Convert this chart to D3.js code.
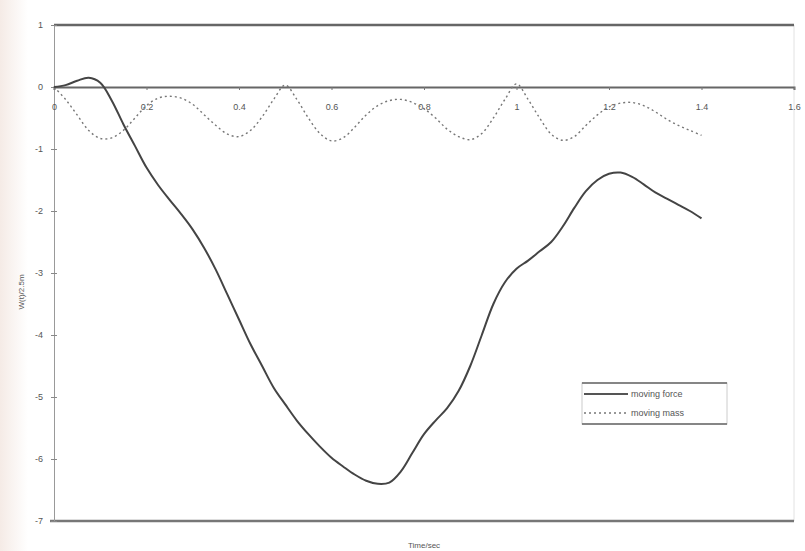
<!DOCTYPE html>
<html>
<head>
<meta charset="utf-8">
<script src="https://cdn.jsdelivr.net/npm/d3@7"></script>
<style>
  body { margin: 0; background: #fff; }
  svg text { font-family: "Liberation Sans", Arial, sans-serif; }
</style>
</head>
<body>
<div id="chart"></div>
<script>
// time steps (sec)
var times = [0, 0.025, 0.05, 0.075, 0.1, 0.125, 0.15, 0.175, 0.2, 0.225, 0.25, 0.275, 0.3, 0.325, 0.35, 0.375,
  0.4, 0.425, 0.45, 0.475, 0.5, 0.525, 0.55, 0.575, 0.6, 0.625, 0.65, 0.675, 0.7, 0.725, 0.75, 0.775,
  0.8, 0.825, 0.85, 0.875, 0.9, 0.925, 0.95, 0.975, 1.0, 1.025, 1.05, 1.075, 1.1, 1.125, 1.15, 1.175,
  1.2, 1.225, 1.25, 1.275, 1.3, 1.325, 1.35, 1.375, 1.4]

// W(t)/2.5m, moving force
var movingForce = [0, 0.03, 0.1, 0.15, 0.07, -0.22, -0.6, -0.95, -1.3, -1.58, -1.82, -2.05, -2.3, -2.6, -2.95, -3.35,
  -3.75, -4.15, -4.5, -4.85, -5.12, -5.38, -5.6, -5.8, -5.98, -6.12, -6.25, -6.35, -6.4, -6.38, -6.2, -5.9,
  -5.6, -5.38, -5.18, -4.9, -4.5, -4.0, -3.5, -3.15, -2.93, -2.8, -2.65, -2.5, -2.25, -1.95, -1.68, -1.5,
  -1.4, -1.38, -1.45, -1.57, -1.7, -1.8, -1.9, -2.0, -2.12]

// W(t)/2.5m, moving mass
var movingMass = [0, -0.2, -0.45, -0.7, -0.83, -0.82, -0.7, -0.5, -0.3, -0.18, -0.15, -0.18, -0.28, -0.45, -0.62, -0.76,
  -0.8, -0.7, -0.48, -0.2, 0.03, -0.2, -0.5, -0.75, -0.87, -0.82, -0.65, -0.45, -0.3, -0.22, -0.2, -0.25,
  -0.35, -0.5, -0.68, -0.8, -0.85, -0.75, -0.5, -0.2, 0.05, -0.2, -0.5, -0.76, -0.86, -0.8, -0.62, -0.45,
  -0.32, -0.26, -0.25, -0.3, -0.4, -0.52, -0.62, -0.7, -0.78]

var xTicks = [0, 0.2, 0.4, 0.6, 0.8, 1, 1.2, 1.4, 1.6]
var yTicks = [1, 0, -1, -2, -3, -4, -5, -6, -7]
var seriesNames = ["moving force", "moving mass"]

var W = 805, H = 551
var m = {top: 25, right: 11, bottom: 30, left: 54}

var svg = d3.select("#chart").append("svg")
    .attr("width", W)
    .attr("height", H)

// faint scan shading on the left edge
var grad = svg.append("defs").append("linearGradient").attr("id", "edge")
grad.append("stop").attr("offset", "0%").attr("stop-color", "#f5ebe6")
grad.append("stop").attr("offset", "100%").attr("stop-color", "#ffffff")
svg.append("rect").attr("width", 28).attr("height", H).attr("fill", "url(#edge)")

var x = d3.scaleLinear().domain([0, 1.6]).range([m.left, W - m.right])
var y = d3.scaleLinear().domain([-7, 1]).range([H - m.bottom, m.top])

// plot frame
svg.append("line").attr("x1", x(1.6)).attr("x2", x(1.6)).attr("y1", y(1)).attr("y2", y(-7))
    .attr("stroke", "#e2e2e2").attr("stroke-width", 1)
svg.append("line").attr("x1", x(0)).attr("x2", x(1.6)).attr("y1", y(1)).attr("y2", y(1))
    .attr("stroke", "#666").attr("stroke-width", 2.5)
svg.append("line").attr("x1", x(0) - 4).attr("x2", x(1.6)).attr("y1", y(-7)).attr("y2", y(-7))
    .attr("stroke", "#777").attr("stroke-width", 2.5)

// y axis
var yAxis = svg.append("g")
    .attr("transform", "translate(" + x(0) + ",0)")
    .call(d3.axisLeft(y).tickValues(yTicks).tickFormat(function(d){ return String(d) }).tickSize(3).tickPadding(8))
yAxis.select(".domain").attr("stroke", "#999").attr("stroke-width", 1)
yAxis.selectAll(".tick line").attr("stroke", "#888").attr("x2", 3).attr("x1", -3)
yAxis.selectAll(".tick text").attr("fill", "#555").attr("font-size", 9)

// x axis along zero line
var xAxis = svg.append("g")
    .attr("transform", "translate(0," + y(0) + ")")
    .call(d3.axisBottom(x).tickValues(xTicks).tickFormat(function(d){ return String(d) }).tickSize(3).tickPadding(14))
xAxis.select(".domain").attr("stroke", "#666").attr("stroke-width", 2)
xAxis.selectAll(".tick line").attr("stroke", "#777")
xAxis.selectAll(".tick text").attr("fill", "#555").attr("font-size", 9)

// series
var line = d3.line()
    .x(function(d){ return x(d[0]) })
    .y(function(d){ return y(d[1]) })
    .curve(d3.curveCatmullRom)

var forceData = times.map(function(t, i){ return [t, movingForce[i]] })
var massData = times.map(function(t, i){ return [t, movingMass[i]] })

svg.append("path").datum(massData)
    .attr("d", line)
    .attr("fill", "none")
    .attr("stroke", "#777")
    .attr("stroke-width", 1.4)
    .attr("stroke-dasharray", "2,3")

svg.append("path").datum(forceData)
    .attr("d", line)
    .attr("fill", "none")
    .attr("stroke", "#444")
    .attr("stroke-width", 2)

// axis titles
svg.append("text")
    .attr("x", (x(0) + x(1.6)) / 2)
    .attr("y", 548)
    .attr("text-anchor", "middle")
    .attr("font-size", 8)
    .attr("fill", "#555")
    .text("Time/sec")

svg.append("text")
    .attr("transform", "translate(24,292) rotate(-90)")
    .attr("text-anchor", "middle")
    .attr("font-size", 8)
    .attr("fill", "#555")
    .text("W(t)/2.5m")

// legend
var lg = svg.append("g").attr("transform", "translate(582,383)")
lg.append("rect").attr("width", 145).attr("height", 41)
    .attr("fill", "#fff").attr("stroke", "#ccc").attr("stroke-width", 1)
lg.append("line").attr("x1", 0).attr("x2", 145).attr("y1", 0).attr("y2", 0).attr("stroke", "#666").attr("stroke-width", 1.5)
lg.append("line").attr("x1", 0).attr("x2", 145).attr("y1", 41).attr("y2", 41).attr("stroke", "#666").attr("stroke-width", 1.5)

seriesNames.forEach(function(name, i){
    var ly = 11 + i * 19
    lg.append("line").attr("x1", 2).attr("x2", 46).attr("y1", ly).attr("y2", ly)
        .attr("stroke", i == 0 ? "#555" : "#777")
        .attr("stroke-width", i == 0 ? 2 : 1.3)
        .attr("stroke-dasharray", i == 0 ? null : "2,3")
    lg.append("text").attr("x", 49).attr("y", ly + 3)
        .attr("font-size", 9).attr("fill", "#555")
        .text(name)
})
</script>
</body>
</html>
